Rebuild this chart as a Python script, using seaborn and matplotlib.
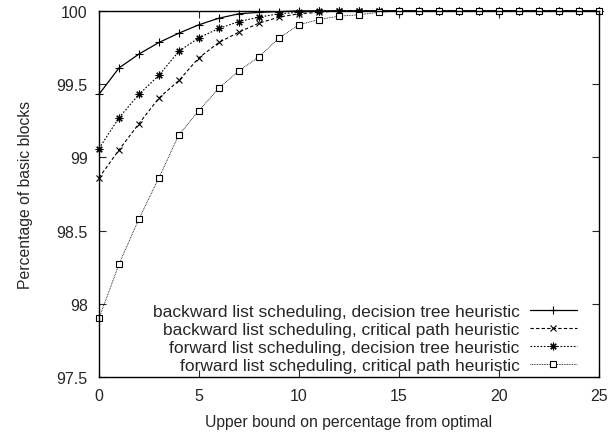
import matplotlib
matplotlib.use("Agg")
import matplotlib.pyplot as plt
import matplotlib.ticker as mticker
import seaborn as sns
import pandas as pd

# x positions: upper bound on percentage from optimal
bound = list(range(0, 26))

back_dt = [99.43, 99.61, 99.705, 99.784, 99.848, 99.905, 99.95, 99.98, 99.99, 99.995,
           100, 100, 100, 100, 100, 100, 100, 100, 100, 100, 100, 100, 100, 100, 100, 100]
back_cp = [98.86, 99.05, 99.23, 99.405, 99.525, 99.68, 99.784, 99.855, 99.916, 99.957,
           99.98, 99.99, 100, 100, 100, 100, 100, 100, 100, 100, 100, 100, 100, 100, 100, 100]
fwd_dt = [99.06, 99.27, 99.43, 99.56, 99.725, 99.816, 99.88, 99.927, 99.957, 99.98,
          99.99, 100, 100, 100, 100, 100, 100, 100, 100, 100, 100, 100, 100, 100, 100, 100]
fwd_cp = [97.90, 98.27, 98.58, 98.86, 99.155, 99.318, 99.473, 99.59, 99.686, 99.814,
          99.905, 99.94, 99.964, 99.973, 99.99, 100, 100, 100, 100, 100, 100, 100, 100, 100, 100, 100]

labels = ["backward list scheduling, decision tree heuristic",
          "backward list scheduling, critical path heuristic",
          "forward list scheduling, decision tree heuristic",
          "forward list scheduling, critical path heuristic"]

sns.set_style("ticks")
plt.rcParams['font.family'] = ['Liberation Sans', 'DejaVu Sans']

fig = plt.figure(figsize=(6.11, 4.39), dpi=100)
ax = fig.add_axes([0.162, 0.139, 0.818, 0.834])

series = [back_dt, back_cp, fwd_dt, fwd_cp]
styles = [
    dict(linestyle='-', marker='+', linewidth=0.9, markersize=5.5, markeredgewidth=0.8),
    dict(linestyle=(0, (3, 2)), marker='x', linewidth=0.8, markersize=4.5, markeredgewidth=0.8),
    dict(linestyle=(0, (1.5, 1.5)), marker=(8, 2, 0), linewidth=0.8, markersize=5.5,
         markeredgewidth=0.8),
    dict(linestyle=(0, (1, 1)), marker='s', linewidth=0.6, markersize=4.5,
         markerfacecolor='white', markeredgewidth=0.8),
]
for vals, lab, st in zip(series, labels, styles):
    df = pd.DataFrame({'bound': bound, 'pct': vals})
    sns.lineplot(data=df, x='bound', y='pct', ax=ax, color='black', legend=False)
    line = ax.lines[-1]
    line.set_label(lab)
    line.set_clip_on(False)
    line.set_markeredgecolor('black')
    line.set_markerfacecolor('black')
    for k, v in st.items():
        getattr(line, 'set_' + k)(v)

ax.set_xlim(0, 25)
ax.set_ylim(97.5, 100)
ax.set_xticks([0, 5, 10, 15, 20, 25])
ax.set_yticks([97.5, 98, 98.5, 99, 99.5, 100])
ax.yaxis.set_major_formatter(mticker.FormatStrFormatter('%g'))
ax.tick_params(direction='in', top=True, right=True, length=5, width=0.8,
               labelsize=11.5, pad=8)
for s in ax.spines.values():
    s.set_linewidth(1.0)
    s.set_color('black')
ax.set_xlabel("Upper bound on percentage from optimal", fontsize=11.3)
ax.set_ylabel("Percentage of basic blocks", fontsize=11.3)
ax.yaxis.set_label_coords(-0.132, 0.5)
ax.xaxis.set_label_coords(0.5, -0.10)

ax.legend(loc='lower right', bbox_to_anchor=(0.956, 0.012), markerfirst=False,
          frameon=False, fontsize=12.5, handlelength=2.7, labelspacing=0.15,
          borderaxespad=0, borderpad=0, handletextpad=0.6)

fig.savefig("out.png", dpi=100)
